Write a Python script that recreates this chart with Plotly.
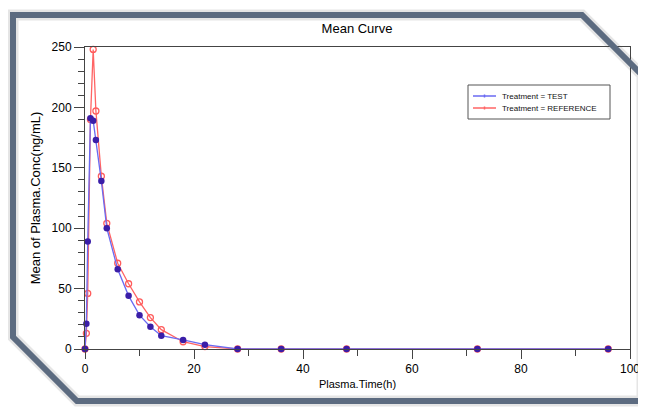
import plotly.graph_objects as go

# ---- data ----
time_h = [0, 0.25, 0.5, 1, 1.5, 2, 3, 4, 6, 8, 10, 12, 14, 18, 22, 28, 36, 48, 72, 96]
test_conc = [0, 21, 89, 191, 189, 173, 139, 100, 66, 44, 28, 18.5, 11, 7.5, 3.6, 0, 0, 0, 0, 0]
ref_conc = [0, 13, 46, 190, 248, 197, 143, 104, 71, 54, 39, 26, 16, 6, 2, 0, 0, 0, 0, 0]
series_names = ["Treatment = TEST", "Treatment = REFERENCE"]
series_line_colors = ["#6a6af2", "#ff6464"]

FONT = "Liberation Sans, Arial, sans-serif"
OFF = 8  # page body margin of the default html page
W, H = 646 - OFF, 407 - OFF
L, R, T, B = 85 - OFF, 630 - OFF, 47 - OFF, 349 - OFF  # plot area in figure px

def px(x):
    return (x - OFF - L) / (R - L)

def py(y):
    return (B - (y - OFF)) / (B - T)

fig = go.Figure()
fig.add_trace(go.Scatter(
    x=time_h, y=ref_conc, name=series_names[1], mode="lines+markers",
    line=dict(color=series_line_colors[1], width=1.3),
    marker=dict(symbol="circle-open", size=6, color="#ff5c5c", line=dict(width=1.3)),
    cliponaxis=False, showlegend=False,
))
fig.add_trace(go.Scatter(
    x=time_h, y=test_conc, name=series_names[0], mode="lines+markers",
    line=dict(color=series_line_colors[0], width=1.3),
    marker=dict(symbol="circle", size=6.5, color="#3a1ea8", line=dict(width=0)),
    cliponaxis=False, showlegend=False,
))

# frame in page px
frame_pts = [(13, 15), (582, 15), (642, 75), (642, 401), (77, 401), (13, 337)]
path = "M " + " L ".join(f"{px(a):.5f},{py(b):.5f}" for a, b in frame_pts) + " Z"
fig.add_shape(type="path", xref="paper", yref="paper", path=path,
              line=dict(color="rgba(0,0,0,0.10)", width=11), layer="below")
fig.add_shape(type="path", xref="paper", yref="paper", path=path,
              line=dict(color="#5c6b80", width=6))

# legend box drawn by hand (compact, like the reference)
fig.add_shape(type="rect", xref="paper", yref="paper",
              x0=px(468), x1=px(610), y0=py(85), y1=py(119),
              line=dict(color="#555555", width=1), fillcolor="white")
for i, (name, col) in enumerate(zip(series_names, series_line_colors)):
    yy = 96 + 12 * i
    fig.add_shape(type="line", xref="paper", yref="paper",
                  x0=px(473), x1=px(496), y0=py(yy), y1=py(yy),
                  line=dict(color=col, width=1.5))
    fig.add_shape(type="line", xref="paper", yref="paper",
                  x0=px(484.5), x1=px(484.5), y0=py(yy - 1.5), y1=py(yy + 1.5),
                  line=dict(color=col, width=1.5))
    fig.add_annotation(xref="paper", yref="paper", x=px(500), y=py(yy),
                       xanchor="left", yanchor="middle", showarrow=False,
                       text=name, font=dict(size=8, color="#111"))

fig.update_layout(
    width=W, height=H, autosize=False,
    margin=dict(l=L, r=W - R, t=T, b=H - B, autoexpand=False),
    paper_bgcolor="white", plot_bgcolor="white",
    font=dict(family=FONT, size=12, color="black"),
    title=dict(text="Mean Curve", x=(357 - OFF) / W, xanchor="center", y=1 - (28 - OFF) / H,
               yanchor="middle", font=dict(size=13, color="black"), automargin=False),
    showlegend=False,
    xaxis=dict(range=[0, 100], dtick=20, tick0=0, showgrid=False, zeroline=False,
               showline=True, linecolor="#444", linewidth=1, mirror=True, automargin=False,
               ticks="outside", ticklen=9, tickcolor="#444", tickfont=dict(size=12),
               minor=dict(dtick=10, ticks="outside", ticklen=6, tickcolor="#444"),
               title=dict(text="Plasma.Time(h)", font=dict(size=11), standoff=4)),
    yaxis=dict(range=[0, 250], dtick=50, tick0=0, showgrid=False, zeroline=False,
               showline=True, linecolor="#444", linewidth=1, mirror=True, automargin=False,
               ticks="outside", ticklen=10, tickcolor="#444", tickfont=dict(size=12),
               minor=dict(dtick=10, ticks="outside", ticklen=6, tickcolor="#444"),
               title=dict(text="Mean of Plasma.Conc(ng/mL)", font=dict(size=13), standoff=8)),
)

fig.write_html("out.html")
